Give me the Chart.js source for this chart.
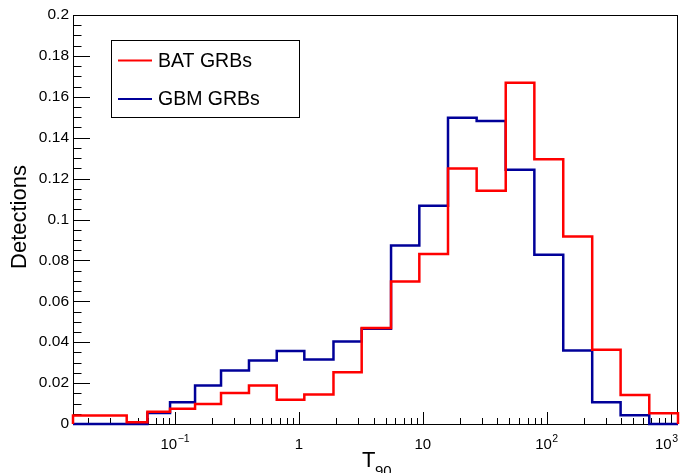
<!DOCTYPE html>
<html lang="en">
<head>
<meta charset="UTF-8">
<title>T90 distribution</title>
<script src="https://cdn.jsdelivr.net/npm/chart.js"></script>
<style>
  html, body { margin: 0; padding: 0; background: #fff; }
  #chart { display: block; }
</style>
</head>
<body>
<canvas id="chart" width="681" height="473"></canvas>
<script>
// bin edges of T90 (s)
const binEdges = [0.0150, 0.0407, 0.0598, 0.0911, 0.145, 0.235, 0.395, 0.662, 1.105, 1.90, 3.21,
                  5.54, 9.37, 15.97, 27.2, 46.7, 79.5, 136, 233, 395, 673, 1148];
// normalised detections per bin
const batValues = [0.0041, 0.0008, 0.0060, 0.0074, 0.0098, 0.0152, 0.0188, 0.0119, 0.0144, 0.0253, 0.0470,
                   0.0697, 0.0831, 0.1249, 0.1140, 0.1669, 0.1295, 0.0917, 0.0363, 0.0142, 0.0052];
const gbmValues = [0, 0, 0.0054, 0.0106, 0.0188, 0.0262, 0.0311, 0.0357, 0.0315, 0.0404, 0.0466,
                   0.0873, 0.1067, 0.1498, 0.1482, 0.1243, 0.0828, 0.0359, 0.0106, 0.0043, 0];
const seriesNames = ['BAT GRBs', 'GBM GRBs'];
const seriesColors = ['#ff0000', '#000099'];

const yTicks = [0, 0.02, 0.04, 0.06, 0.08, 0.1, 0.12, 0.14, 0.16, 0.18, 0.2];
const yTickLabels = ['0', '0.02', '0.04', '0.06', '0.08', '0.1', '0.12', '0.14', '0.16', '0.18', '0.2'];
const xTicks = [0.1, 1, 10, 100, 1000];
const xTickLabels = [['10', '\u22121'], ['1', ''], ['10', ''], ['10', '2'], ['10', '3']];

const FONT = '"Liberation Sans", Arial, Helvetica, sans-serif';

// turn edges + contents into a ROOT style step outline
function histPoints(edges, vals) {
    const pts = [{ x: edges[0], y: 0 }];
    vals.forEach((v, i) => {
        pts.push({ x: edges[i], y: v });
        pts.push({ x: edges[i + 1], y: v });
    });
    pts.push({ x: edges[edges.length - 1], y: 0 });
    return pts;
}

const rootFrame = {
    id: 'rootFrame',
    beforeDatasetsDraw(chart) {
        const { ctx, chartArea: a, scales: { x, y } } = chart;
        ctx.save();
        ctx.strokeStyle = '#000';
        ctx.lineWidth = 1;
        ctx.strokeRect(a.left + 0.5, a.top + 0.5, a.right - a.left - 1, a.bottom - a.top);

        // y ticks, pointing into the pad
        ctx.beginPath();
        for (let i = 0; i <= 40; i++) {
            const py = Math.round(y.getPixelForValue(i * 0.005)) + 0.5;
            const len = i % 4 === 0 ? 17 : 8.5;
            ctx.moveTo(a.left, py);
            ctx.lineTo(a.left + len, py);
        }
        // x ticks on log axis
        for (let d = -2; d <= 3; d++) {
            for (let m = 1; m <= 9; m++) {
                const v = m * Math.pow(10, d);
                if (v < x.min || v > x.max) continue;
                const px = Math.round(x.getPixelForValue(v)) + 0.5;
                ctx.moveTo(px, a.bottom);
                ctx.lineTo(px, a.bottom - (m === 1 ? 12 : 6));
            }
        }
        ctx.stroke();

        // tick labels
        ctx.fillStyle = '#000';
        ctx.font = '15.5px ' + FONT;
        ctx.textAlign = 'right';
        ctx.textBaseline = 'middle';
        yTicks.forEach((v, i) => ctx.fillText(yTickLabels[i], a.left - 4, y.getPixelForValue(v)));

        ctx.textBaseline = 'alphabetic';
        ctx.textAlign = 'left';
        xTicks.forEach((v, i) => {
            const [base, exp] = xTickLabels[i];
            ctx.font = '15px ' + FONT;
            const wb = ctx.measureText(base).width;
            ctx.font = '10.5px ' + FONT;
            const we = exp ? ctx.measureText(exp).width + 0.5 : 0;
            let left = x.getPixelForValue(v) - (wb + we) / 2;
            left = Math.min(left, a.right - (wb + we));
            ctx.font = '15px ' + FONT;
            ctx.fillText(base, left, 449);
            if (exp) {
                ctx.font = '10.5px ' + FONT;
                ctx.fillText(exp, left + wb + 0.5, 442);
            }
        });

        // axis titles
        ctx.font = '22px ' + FONT;
        ctx.textAlign = 'left';
        ctx.fillText('T', 362, 467);
        ctx.font = '15px ' + FONT;
        ctx.fillText('90', 375, 476);

        ctx.save();
        ctx.translate(26, 217);
        ctx.rotate(-Math.PI / 2);
        ctx.font = '22px ' + FONT;
        ctx.textAlign = 'center';
        ctx.textBaseline = 'alphabetic';
        ctx.fillText('Detections', 0, 0);
        ctx.restore();
        ctx.restore();
    },
    afterDatasetsDraw(chart) {
        const { ctx } = chart;
        ctx.save();
        ctx.fillStyle = '#fff';
        ctx.fillRect(112, 41, 187, 76);
        ctx.strokeStyle = '#000';
        ctx.lineWidth = 1;
        ctx.strokeRect(111.5, 40.5, 188, 77);
        const rows = [60.5, 99];
        ctx.font = '19.5px ' + FONT;
        ctx.textAlign = 'left';
        ctx.textBaseline = 'middle';
        seriesNames.forEach((name, i) => {
            ctx.strokeStyle = seriesColors[i];
            ctx.lineWidth = 2;
            ctx.beginPath();
            ctx.moveTo(118, rows[i]);
            ctx.lineTo(152, rows[i]);
            ctx.stroke();
            ctx.fillStyle = '#000';
            ctx.fillText(name, 158, rows[i] + 1);
        });
        ctx.restore();
    }
};

new Chart(document.getElementById('chart'), {
    type: 'line',
    data: {
        datasets: [
            { label: seriesNames[0], data: histPoints(binEdges, batValues) },
            { label: seriesNames[1], data: histPoints(binEdges, gbmValues) }
        ].map((ds, i) => Object.assign(ds, {
            borderColor: seriesColors[i],
            borderWidth: 2.5,
            borderJoinStyle: 'miter',
            pointRadius: 0,
            tension: 0,
            fill: false,
            clip: false
        }))
    },
    options: {
        responsive: false,
        animation: false,
        layout: { padding: { left: 73, right: 3, top: 15, bottom: 49 } },
        scales: {
            x: { type: 'logarithmic', min: binEdges[0], max: binEdges[binEdges.length - 1], display: false },
            y: { type: 'linear', min: 0, max: 0.2, display: false }
        },
        plugins: { legend: { display: false }, tooltip: { enabled: false } }
    },
    plugins: [rootFrame]
});
</script>
</body>
</html>
